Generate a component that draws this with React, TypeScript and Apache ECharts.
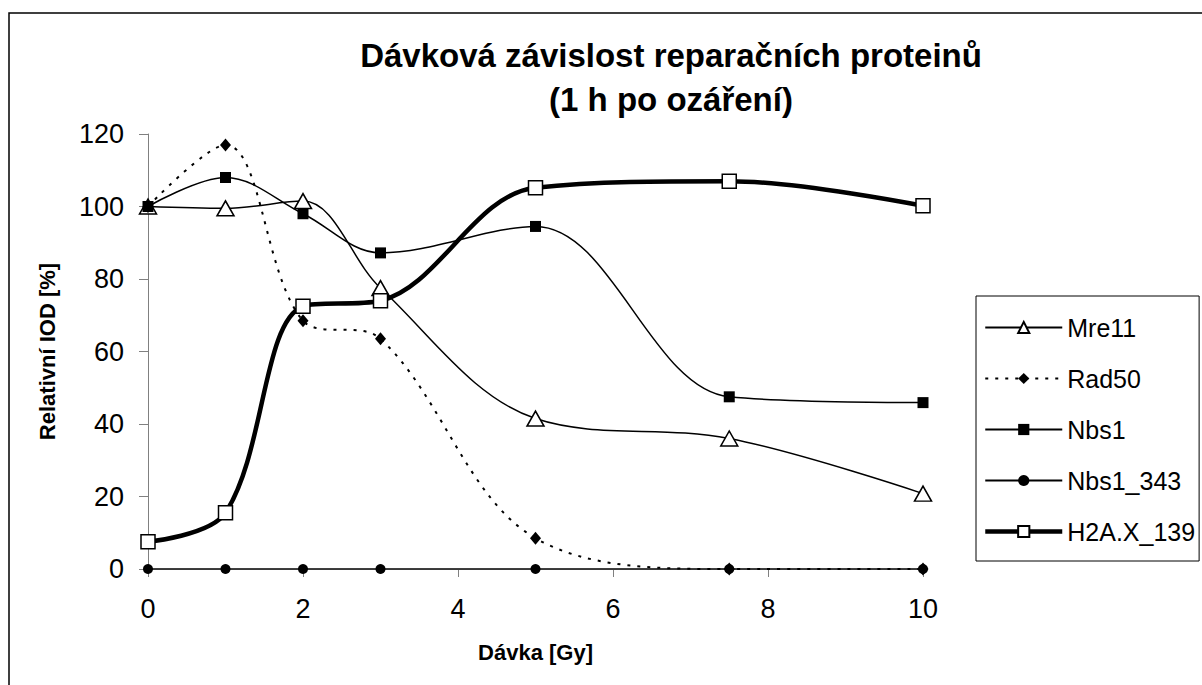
import React, { useEffect, useRef } from "react";
import * as echarts from "echarts";

const doses = [0, 1, 2, 3, 5, 7.5, 10];
const mre11 = [100, 99.5, 101.5, 77.5, 41.5, 36, 20.8];
const rad50 = [100, 117, 68.5, 63.5, 8.5, 0, 0];
const nbs1 = [100, 108, 98, 87.2, 94.5, 47.5, 45.9];
const nbs1_343 = [0, 0, 0, 0, 0, 0, 0];
const h2ax139 = [7.5, 15.5, 72.5, 74, 105.2, 107, 100.2];

const xTicks = [0, 2, 4, 6, 8, 10];
const yTicks = [0, 20, 40, 60, 80, 100, 120];

const titleText = "Dávková závislost reparačních proteinů\n(1 h po ozáření)";
const xName = "Dávka [Gy]";
const yName = "Relativní IOD [%]";
const legendNames = ["Mre11", "Rad50", "Nbs1", "Nbs1_343", "H2A.X_139"];

const FONT = "'Liberation Sans', Arial, sans-serif";

const pairs = (ys: number[]) => doses.map((d, i) => [d, ys[i]]);

export default function App() {
  const ref = useRef<HTMLDivElement>(null);
  useEffect(() => {
    if (!ref.current) return;
    const chart = echarts.init(ref.current, undefined, { renderer: "svg" });
    const base = (name: string, data: number[], extra: any) => ({
      name,
      type: "line",
      data: pairs(data),
      smooth: 0.35,
      showAllSymbol: true,
      ...extra,
    });
    chart.setOption({
      animation: false,
      backgroundColor: "#ffffff",
      textStyle: { fontFamily: FONT },
      title: {
        text: titleText,
        left: 671,
        top: 33,
        textAlign: "center",
        padding: 0,
        textStyle: {
          fontFamily: FONT,
          fontSize: 33,
          fontWeight: "bold",
          color: "#000",
          lineHeight: 44,
        },
      },
      legend: {
        orient: "vertical",
        left: 976,
        top: 296,
        padding: [19, 4, 17, 7],
        itemWidth: 77,
        itemHeight: 14,
        itemGap: 26,
        borderColor: "#000",
        borderWidth: 1,
        backgroundColor: "#fff",
        textStyle: { fontFamily: FONT, fontSize: 25, color: "#000", padding: [0, 0, 0, 0] },
        data: legendNames.map((n) =>
          n === "H2A.X_139" ? { name: n, lineStyle: { width: 4.5 } } : { name: n }
        ),
      },
      grid: { left: 148, right: 279, top: 134, bottom: 116, containLabel: false },
      xAxis: {
        type: "value",
        min: xTicks[0],
        max: xTicks[xTicks.length - 1],
        interval: 2,
        name: xName,
        nameLocation: "middle",
        nameGap: 72,
        nameTextStyle: { fontFamily: FONT, fontSize: 22, fontWeight: "bold", color: "#000" },
        axisLine: { lineStyle: { color: "#808080", width: 1 } },
        axisTick: { show: true, length: 8, lineStyle: { color: "#808080" } },
        axisLabel: { fontFamily: FONT, fontSize: 27, color: "#000", margin: 26 },
        splitLine: { show: false },
      },
      yAxis: {
        type: "value",
        min: yTicks[0],
        max: yTicks[yTicks.length - 1],
        interval: 20,
        name: yName,
        nameLocation: "middle",
        nameGap: 90,
        nameRotate: 90,
        nameTextStyle: { fontFamily: FONT, fontSize: 22, fontWeight: "bold", color: "#000" },
        axisLine: { show: true, lineStyle: { color: "#808080", width: 1 } },
        axisTick: { show: true, length: 9, lineStyle: { color: "#808080" } },
        axisLabel: { fontFamily: FONT, fontSize: 27, color: "#000", margin: 24 },
        splitLine: { show: false },
      },
      graphic: [
        {
          type: "rect",
          shape: { x: 9, y: 13, width: 1200, height: 690 },
          style: { fill: "none", stroke: "#000", lineWidth: 1.5 },
          silent: true,
          z: 100,
        },
      ],
      series: [
        base("Mre11", mre11, {
          symbol: "triangle",
          symbolSize: [17, 15],
          lineStyle: { color: "#000", width: 1.5 },
          itemStyle: { color: "#fff", borderColor: "#000", borderWidth: 1.5 },
        }),
        base("Rad50", rad50, {
          symbol: "diamond",
          symbolSize: [11, 13],
          lineStyle: { color: "#000", width: 2, type: [3, 7] },
          itemStyle: { color: "#000", borderColor: "#000", borderWidth: 0 },
        }),
        base("Nbs1", nbs1, {
          symbol: "rect",
          symbolSize: 11,
          lineStyle: { color: "#000", width: 1.5 },
          itemStyle: { color: "#000", borderColor: "#000", borderWidth: 0 },
        }),
        base("Nbs1_343", nbs1_343, {
          symbol: "circle",
          symbolSize: 10,
          lineStyle: { color: "#000", width: 1.5 },
          itemStyle: { color: "#000", borderColor: "#000", borderWidth: 0 },
        }),
        base("H2A.X_139", h2ax139, {
          symbol: "rect",
          symbolSize: 14,
          lineStyle: { color: "#000", width: 4.5 },
          itemStyle: { color: "#fff", borderColor: "#000", borderWidth: 1.5 },
        }),
      ],
    });
    return () => chart.dispose();
  }, []);
  return (
    <div
      ref={ref}
      style={{ position: "absolute", left: 0, top: 0, width: 1202, height: 685, background: "#fff" }}
    />
  );
}
